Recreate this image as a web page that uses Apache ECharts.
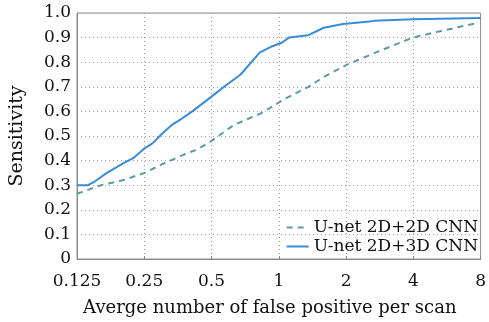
<!DOCTYPE html>
<html>
<head>
<meta charset="utf-8">
<script src="https://cdn.jsdelivr.net/npm/echarts@6/dist/echarts.min.js"></script>
<style>
  html, body { margin: 0; padding: 0; background: #fff; }
  #chart { width: 489px; height: 322px; }
</style>
</head>
<body>
<div id="chart"></div>
<script>
// FROC 曲线数据 (x: 每次扫描的平均假阳性数, y: 灵敏度)
const seriesNames = ['U-net 2D+2D CNN', 'U-net 2D+3D CNN'];
const fp2d = [0.125, 0.16, 0.2, 0.251, 0.3, 0.367, 0.43, 0.5, 0.629, 0.823, 0.937, 1.035, 1.356, 1.59, 2.02, 2.81, 3.98, 5.21, 7.77];
const sens2d = [0.265, 0.30, 0.32, 0.35, 0.385, 0.42, 0.445, 0.48, 0.545, 0.59, 0.62, 0.645, 0.70, 0.74, 0.79, 0.845, 0.90, 0.925, 0.96];
const fp3d = [0.125, 0.14, 0.15, 0.17, 0.202, 0.223, 0.251, 0.272, 0.301, 0.332, 0.367, 0.41, 0.5, 0.569, 0.675, 0.823, 0.937, 1.035, 1.11, 1.356, 1.59, 1.94, 2.54, 2.67, 4, 8];
const sens3d = [0.30, 0.30, 0.315, 0.35, 0.39, 0.41, 0.45, 0.47, 0.51, 0.545, 0.57, 0.60, 0.66, 0.70, 0.75, 0.84, 0.865, 0.88, 0.90, 0.91, 0.94, 0.955, 0.965, 0.968, 0.975, 0.98];
const yTicks = [0, 0.1, 0.2, 0.3, 0.4, 0.5, 0.6, 0.7, 0.8, 0.9, 1.0];

function pairs(xs, ys) {
  return xs.map((x, i) => [x, ys[i]]);
}

const font = 'DejaVu Serif';
const chart = echarts.init(document.getElementById('chart'), null, { renderer: 'canvas' });

const option = {
  animation: false,
  grid: {
    left: 68, right: 4, top: 13, bottom: 59,
    show: true, borderColor: '#8a8a8a', borderWidth: 1
  },
  legend: {
    right: 6, bottom: 62,
    orient: 'vertical',
    itemWidth: 22, itemHeight: 10, itemGap: 2,
    itemStyle: { opacity: 0 },
    textStyle: { fontFamily: font, fontSize: 17, color: '#111' },
    data: seriesNames
  },
  xAxis: {
    type: 'log', logBase: 2, min: 0.125, max: 8,
    name: 'Averge number of false positive per scan',
    nameLocation: 'middle', nameGap: 40,
    nameTextStyle: { fontFamily: font, fontSize: 18, color: '#111', padding: [0, 18, 0, 0] },
    axisLine: { lineStyle: { color: '#8a8a8a' } },
    axisTick: { inside: true, length: 3, lineStyle: { color: '#8a8a8a' } },
    minorTick: { show: false },
    axisLabel: { fontFamily: font, fontSize: 17, color: '#111', margin: 14 },
    splitLine: { show: true, lineStyle: { color: '#a0a0a0', type: [1, 3] } }
  },
  yAxis: {
    type: 'value', min: 0, max: 1, interval: 0.1,
    name: 'Sensitivity',
    nameLocation: 'middle', nameGap: 50,
    nameTextStyle: { fontFamily: font, fontSize: 19, color: '#111' },
    axisLine: { show: true, lineStyle: { color: '#8a8a8a' } },
    axisTick: { show: false },
    axisLabel: {
      fontFamily: font, fontSize: 17, color: '#111', margin: 6,
      formatter: v => (v === 0 ? '0' : v.toFixed(1))
    },
    splitLine: { show: true, lineStyle: { color: '#a0a0a0', type: [1, 3] } }
  },
  series: [
    {
      name: seriesNames[0],
      type: 'line',
      data: pairs(fp2d, sens2d),
      symbol: 'none',
      lineStyle: { color: '#5e9c9b', width: 2, type: [6, 5] },
      itemStyle: { color: '#5e9c9b' }
    },
    {
      name: seriesNames[1],
      type: 'line',
      data: pairs(fp3d, sens3d),
      symbol: 'none',
      lineStyle: { color: '#3a8bd8', width: 2 },
      itemStyle: { color: '#3a8bd8' }
    }
  ]
};
chart.setOption(option);
</script>
</body>
</html>
